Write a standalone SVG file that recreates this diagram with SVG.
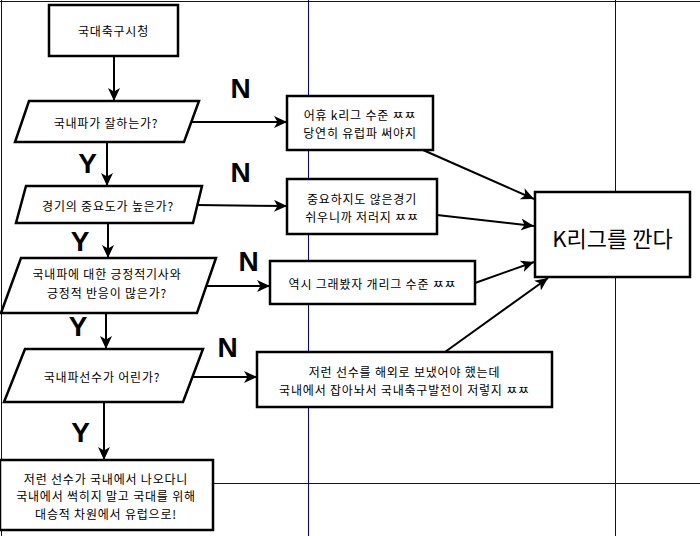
<svg xmlns="http://www.w3.org/2000/svg" width="700" height="536" viewBox="0 0 700 536">
<style>
.grid{stroke:#0000a8;stroke-width:1;fill:none}
.node{fill:#fff;stroke:#000;stroke-width:2.5}
.t{font-family:"Noto Sans CJK KR","Liberation Sans",sans-serif;font-size:12px;letter-spacing:0.8px;fill:#000;text-anchor:middle;dominant-baseline:central}
.big{font-size:22px;letter-spacing:0}
.lbl{font-family:"Liberation Sans",Arial,sans-serif;font-weight:bold;font-size:28px;fill:#000;text-anchor:middle}
.c{stroke:#000;stroke-width:2;fill:none;marker-end:url(#ah)}
</style>
<defs>
<marker id="ah" markerUnits="userSpaceOnUse" markerWidth="14" markerHeight="12" refX="13" refY="6" orient="auto">
<path d="M0,0 L13,6 L0,12 L3.5,6 z" fill="#000"/>
</marker>
</defs>
<g id="grid">
<line class="grid" x1="0" y1="1.5" x2="700" y2="1.5"/>
<line class="grid" x1="1.5" y1="0" x2="1.5" y2="536"/>
<line class="grid" x1="308.5" y1="0" x2="308.5" y2="536"/>
<line class="grid" x1="615.5" y1="0" x2="615.5" y2="536"/>
<line class="grid" x1="0" y1="483.5" x2="700" y2="483.5"/>
</g>
<g id="connectors">
<line class="c" x1="114" y1="56" x2="114" y2="101"/>
<line class="c" x1="107" y1="142" x2="107" y2="186"/>
<line class="c" x1="108" y1="223" x2="108" y2="258"/>
<line class="c" x1="106" y1="313" x2="106" y2="349"/>
<line class="c" x1="104" y1="402" x2="104" y2="460"/>
<line class="c" x1="192" y1="122" x2="287" y2="122"/>
<line class="c" x1="196" y1="205" x2="287" y2="206"/>
<line class="c" x1="207" y1="286" x2="270" y2="286"/>
<line class="c" x1="193" y1="377" x2="257" y2="377"/>
<line class="c" x1="423" y1="150" x2="534" y2="199"/>
<line class="c" x1="437" y1="215" x2="534" y2="226"/>
<line class="c" x1="475" y1="283" x2="534" y2="262"/>
<line class="c" x1="445" y1="352" x2="548" y2="278"/>
</g>
<g id="labels">
<text class="lbl" x="240.5" y="98">N</text>
<text class="lbl" x="240.5" y="182">N</text>
<text class="lbl" x="248.5" y="271">N</text>
<text class="lbl" x="227.5" y="357">N</text>
<text class="lbl" x="87.5" y="173">Y</text>
<text class="lbl" x="80" y="251">Y</text>
<text class="lbl" x="78" y="336">Y</text>
<text class="lbl" x="80.5" y="442">Y</text>
</g>
<g id="start">
<rect class="node" x="49" y="5" width="129" height="51"/>
<text class="t" x="113.5" y="30">국대축구시청</text>
</g>
<g id="q1">
<polygon class="node" points="29,101 199,101 184,142 15,142"/>
<text class="t" x="106" y="122">국내파가 잘하는가?</text>
</g>
<g id="q2">
<polygon class="node" points="26,186 202,186 193,223 16,223"/>
<text class="t" x="108" y="205">경기의 중요도가 높은가?</text>
</g>
<g id="q3">
<polygon class="node" points="21,258 216,258 197,313 1,313"/>
<text class="t" x="107" y="273">국내파에 대한 긍정적기사와</text>
<text class="t" x="107" y="292">긍정적 반응이 많은가?</text>
</g>
<g id="q4">
<polygon class="node" points="25,349 203,349 183,402 4,402"/>
<text class="t" x="102" y="376">국내파선수가 어린가?</text>
</g>
<g id="end">
<rect class="node" x="0" y="460" width="213" height="70"/>
<text class="t" x="106" y="478">저런 선수가 국내에서 나오다니</text>
<text class="t" x="106" y="495.5">국내에서 썩히지 말고 국대를 위해</text>
<text class="t" x="106" y="513">대승적 차원에서 유럽으로!</text>
</g>
<g id="n1">
<rect class="node" x="287" y="96" width="146" height="54"/>
<text class="t" x="360" y="114">어휴 k리그 수준 ㅉㅉ</text>
<text class="t" x="360" y="132">당연히 유럽파 써야지</text>
</g>
<g id="n2">
<rect class="node" x="287" y="179" width="150" height="55"/>
<text class="t" x="362" y="198">중요하지도 않은경기</text>
<text class="t" x="362" y="216">쉬우니까 저러지 ㅉㅉ</text>
</g>
<g id="n3">
<rect class="node" x="270" y="261" width="205" height="43"/>
<text class="t" x="372.5" y="283">역시 그래봤자 개리그 수준 ㅉㅉ</text>
</g>
<g id="n4">
<rect class="node" x="257" y="352" width="295" height="55"/>
<text class="t" x="404.5" y="371">저런 선수를 해외로 보냈어야 했는데</text>
<text class="t" x="404.5" y="389">국내에서 잡아놔서 국내축구발전이 저렇지 ㅉㅉ</text>
</g>
<g id="kleague">
<rect class="node" x="535" y="192" width="155" height="85"/>
<text class="t big" x="612.5" y="237">K리그를 깐다</text>
</g>
</svg>
